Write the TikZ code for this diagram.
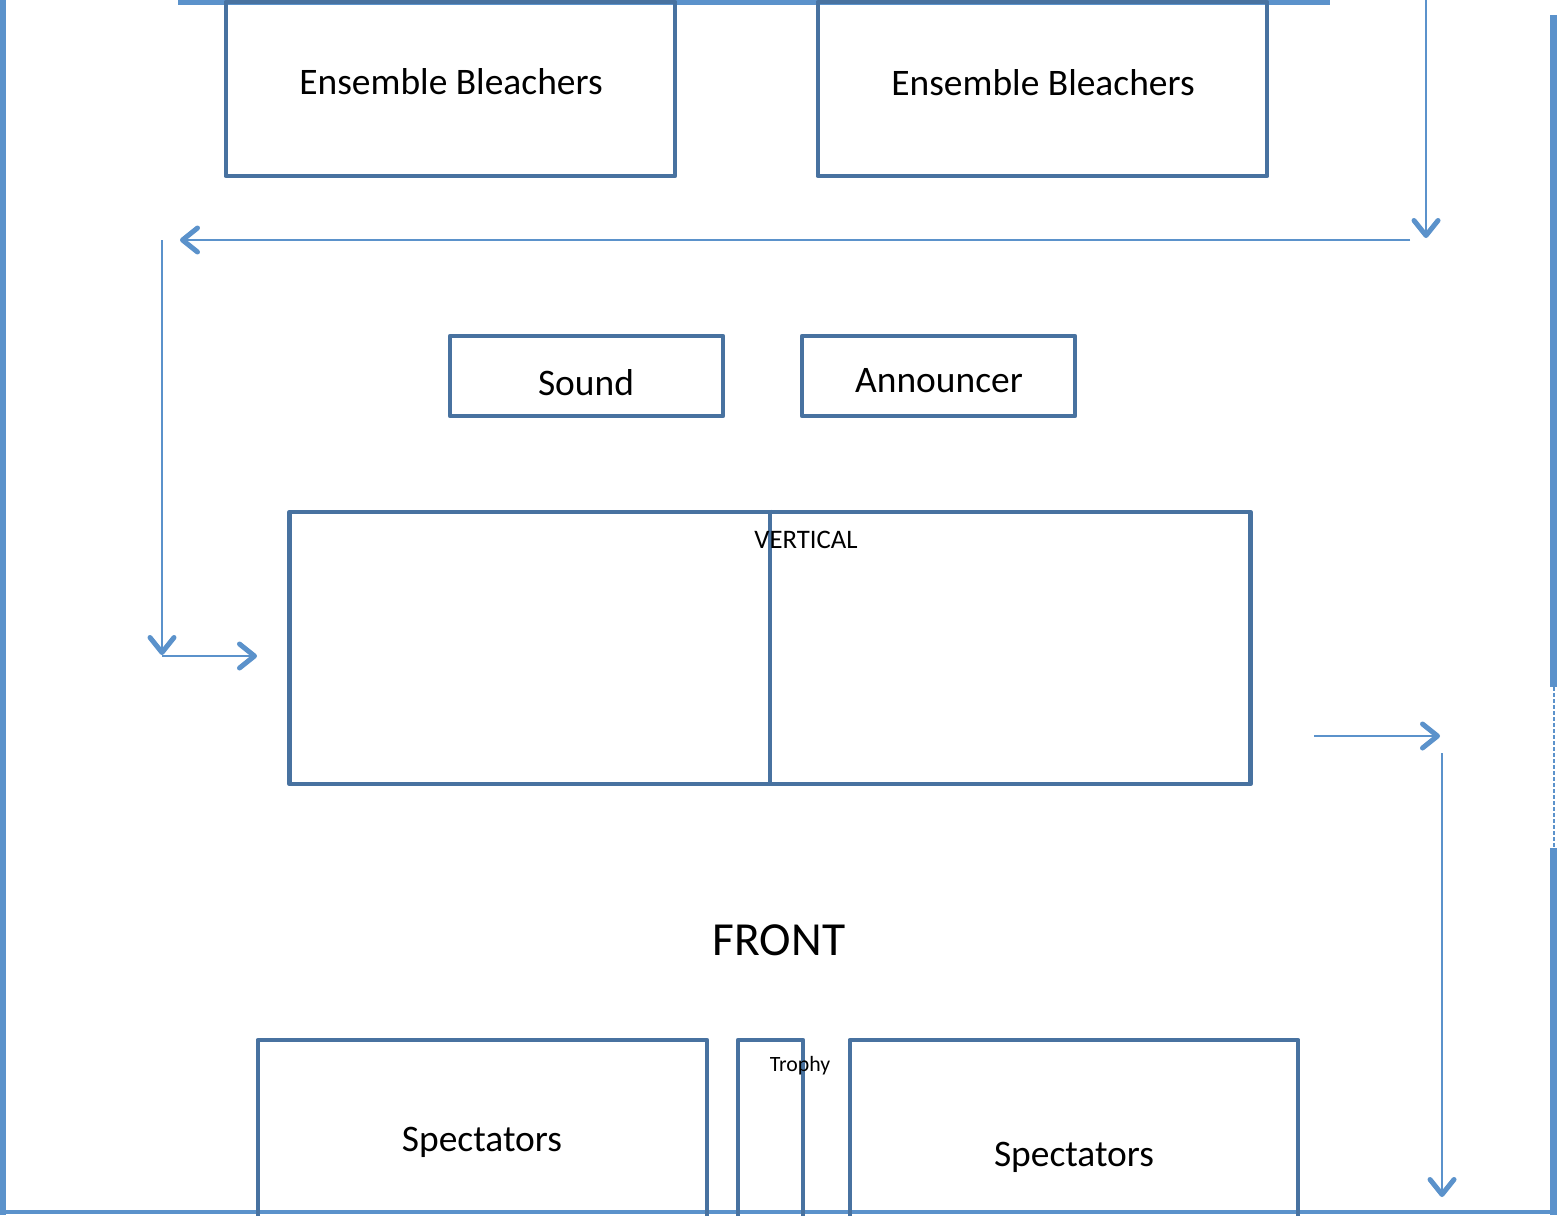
\documentclass[tikz,border=0pt]{standalone}
\usepackage{fontspec}
\setmainfont{Carlito}
\usetikzlibrary{arrows.meta}
\definecolor{boxblue}{RGB}{72,114,160}
\definecolor{wallblue}{RGB}{91,146,203}

\begin{document}
\begin{tikzpicture}
		[x=0.01cm, y=-0.01cm,
		box/.style ={draw=boxblue, line width=0.045cm, line join=round, rectangle, inner sep=0pt},
		big/.style ={font=\fontsize{10.65}{12}\selectfont},
		small/.style ={font=\fontsize{6.2}{7}\selectfont},
		wall/.style ={draw=wallblue, line width=0.06cm},
		flow/.style ={draw=wallblue, line width=0.02cm, -{Straight Barb[length=0.15cm, width=0.24cm, line width=0.05cm, round]}}]
		\useasboundingbox (0,0) rectangle (1558,1215);

		% walls of the hall
		\draw[wall] (178,2) -- (1330,2);
		\draw[wall] (3,0) -- (3,1215);
		\draw[wall, line width=0.045cm] (0,1212) -- (1556,1212);
		\draw[wall, line width=0.07cm] (1553,15) -- (1553,687);
		\draw[draw=wallblue, line width=0.015cm, dash pattern=on 0.04cm off 0.02cm] (1554,687) -- (1554,848);
		\draw[wall, line width=0.07cm] (1553,848) -- (1553,1215);

		% boxes
		\node[box, minimum width=4.49cm, minimum height=1.74cm] (bleachL) at (450.5,89) {};
		\node[box, minimum width=4.49cm, minimum height=1.74cm] (bleachR) at (1042.5,89) {};
		\node[box, minimum width=2.73cm, minimum height=0.8cm] (sound) at (586.5,376) {};
		\node[box, minimum width=2.73cm, minimum height=0.8cm] (announcer) at (938.5,376) {};
		\node[box, minimum width=9.6cm, minimum height=2.72cm] (floor) at (770,648) {};
		\draw[draw=boxblue, line width=0.045cm] (floor.north) -- (floor.south);
		\node[box, minimum width=4.49cm, minimum height=1.78cm] (specL) at (482.5,1129) {};
		\node[box, minimum width=0.65cm, minimum height=1.78cm] (trophy) at (770.5,1129) {};
		\node[box, minimum width=4.48cm, minimum height=1.78cm] (specR) at (1074,1129) {};

		% labels
		\node[big] (bleachLtxt) at (451,82) {Ensemble Bleachers};
		\node[big] (bleachRtxt) at (1043,83) {Ensemble Bleachers};
		\node[big] (soundtxt) at (586,383) {Sound};
		\node[big] (announcertxt) at (939,381) {Announcer};
		\node[font=\fontsize{7.6}{9}\selectfont] (verticaltxt) at (806,540) {VERTICAL};
		\node[font=\fontsize{13.5}{16}\selectfont] (front) at (779,940) {FRONT};
		\node[big] (specLtxt) at (482,1142) {Spectators};
		\node[small] (trophytxt) at (800,1066) {Trophy};
		\node[big] (specRtxt) at (1074,1157) {Spectators};

		% path of the march
		\coordinate (p1) at (1426,0);
		\coordinate (p2) at (1426,238);
		\coordinate (p3) at (1410,240);
		\coordinate (p4) at (180,240);
		\coordinate (p5) at (162,240);
		\coordinate (p6) at (162,655);
		\coordinate (p7) at (162,656);
		\coordinate (p8) at (257,656);
		\coordinate (p9) at (1314,736);
		\coordinate (p10) at (1440,736);
		\coordinate (p11) at (1442,753);
		\coordinate (p12) at (1442,1197);
		\draw[flow] (p1) -- (p2);
		\draw[flow] (p3) -- (p4);
		\draw[flow] (p5) -- (p6);
		\draw[flow] (p7) -- (p8);
		\draw[flow] (p9) -- (p10);
		\draw[flow] (p11) -- (p12);
	\end{tikzpicture}
\end{document}
